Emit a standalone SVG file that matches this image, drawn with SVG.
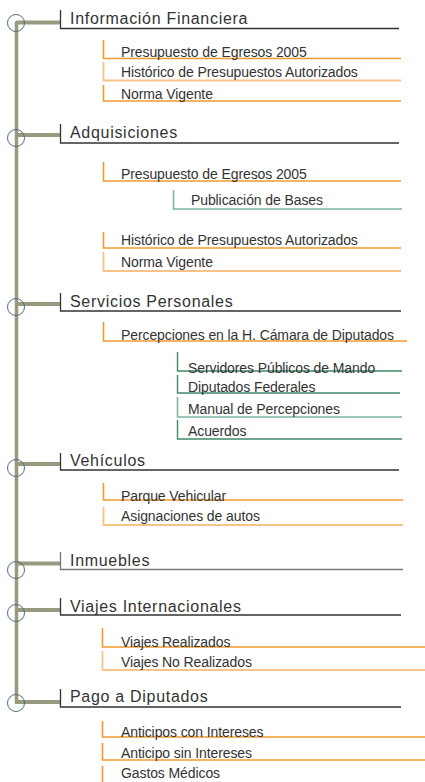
<svg xmlns="http://www.w3.org/2000/svg" width="425" height="782" viewBox="0 0 425 782">
<style>
text{font-family:"Liberation Sans",Arial,sans-serif;fill:#333}
.h{font-size:16px;letter-spacing:0.7px}
.s{font-size:14px;letter-spacing:-0.1px}
.hl{stroke:#333;stroke-width:1.3;fill:none}
.o{stroke:#f39a2e;stroke-width:1.6;fill:none}
.ol{stroke:#f9c287;stroke-width:1.8;fill:none}
.g{stroke:#3f8a6a;stroke-width:1.4;fill:none}
.gl{stroke:#7db8a0;stroke-width:1.6;fill:none}
.bar{stroke:#999980;stroke-width:3.5;fill:none}
.con{stroke:#999980;stroke-width:4;stroke-linecap:round;fill:none}
.c{stroke:#4d7373;stroke-width:1;fill:none}
</style>
<g id="connectors">
<line class="bar" x1="16.5" y1="22" x2="16.5" y2="704"/>
<line class="con" x1="17" y1="22.5" x2="59" y2="22.5"/>
<line class="con" x1="17" y1="135" x2="59" y2="135"/>
<line class="con" x1="17" y1="304" x2="59" y2="304"/>
<line class="con" x1="17" y1="464" x2="59" y2="464"/>
<line class="con" x1="17" y1="563.5" x2="59" y2="563.5"/>
<line class="con" x1="17" y1="610" x2="59" y2="610"/>
<line class="con" x1="17" y1="702" x2="59" y2="702"/>
<circle class="c" cx="16" cy="23" r="8.5"/>
<circle class="c" cx="16" cy="138" r="8.5"/>
<circle class="c" cx="16" cy="307" r="8.5"/>
<circle class="c" cx="16" cy="468" r="8.5"/>
<circle class="c" cx="16" cy="570" r="8.5"/>
<circle class="c" cx="16" cy="613" r="8.5"/>
<circle class="c" cx="16" cy="703" r="8.5"/>
</g>

<g id="informacion-financiera">
<path class="hl" d="M60.5 10 V28.5 H399"/>
<text class="h" x="70" y="24">Información Financiera</text>
</g>
<g id="if-presupuesto">
<path class="o" d="M103.5 40 V58.5 H401"/>
<text class="s" x="121" y="57">Presupuesto de Egresos 2005</text>
</g>
<g id="if-historico">
<path class="ol" d="M103.5 62 V80.5 H401"/>
<text class="s" x="121" y="76.5">Histórico de Presupuestos Autorizados</text>
</g>
<g id="if-norma">
<path class="o" d="M103.5 85 V101 H401"/>
<text class="s" x="121" y="98.5">Norma Vigente</text>
</g>

<g id="adquisiciones">
<path class="hl" d="M60.5 124 V143 H399"/>
<text class="h" x="70" y="138">Adquisiciones</text>
</g>
<g id="ad-presupuesto">
<path class="o" d="M103.5 162 V181 H401"/>
<text class="s" x="121" y="179">Presupuesto de Egresos 2005</text>
</g>
<g id="ad-publicacion">
<path class="gl" d="M173.5 190 V209 H402"/>
<text class="s" x="191" y="205">Publicación de Bases</text>
</g>
<g id="ad-historico">
<path class="o" d="M103.5 232 V248 H401"/>
<text class="s" x="121" y="244.5">Histórico de Presupuestos Autorizados</text>
</g>
<g id="ad-norma">
<path class="ol" d="M103.5 252 V271 H401"/>
<text class="s" x="121" y="267">Norma Vigente</text>
</g>

<g id="servicios-personales">
<path class="hl" d="M60.5 293 V311 H401"/>
<text class="h" x="70" y="307">Servicios Personales</text>
</g>
<g id="sp-percepciones">
<path class="o" d="M103.5 322 V341 H407"/>
<text class="s" x="121" y="340">Percepciones en la H. Cámara de Diputados</text>
</g>
<g id="sp-servidores">
<path class="g" d="M177.5 352 V371 H402"/>
<text class="s" x="188" y="372.5">Servidores Públicos  de Mando</text>
</g>
<g id="sp-diputados">
<path class="g" d="M177.5 375 V393 H400"/>
<text class="s" x="188" y="392">Diputados Federales</text>
</g>
<g id="sp-manual">
<path class="gl" d="M177.5 397 V417 H402"/>
<text class="s" x="188" y="414">Manual de Percepciones</text>
</g>
<g id="sp-acuerdos">
<path class="g" d="M177.5 420 V439 H402"/>
<text class="s" x="188" y="436">Acuerdos</text>
</g>

<g id="vehiculos">
<path class="hl" d="M60.5 453 V470 H399"/>
<text class="h" x="70" y="466">Vehículos</text>
</g>
<g id="ve-parque">
<path class="o" d="M103.5 483 V500 H403"/>
<text class="s" x="121" y="500.5">Parque Vehicular</text>
</g>
<g id="ve-asignaciones">
<path class="ol" d="M103.5 507 V525 H403"/>
<text class="s" x="121" y="521">Asignaciones de autos</text>
</g>

<g id="inmuebles">
<path class="hl" d="M60.5 552 V569.5 H403" style="stroke:#777"/>
<text class="h" x="70" y="566">Inmuebles</text>
</g>

<g id="viajes-internacionales">
<path class="hl" d="M60.5 598 V615 H401"/>
<text class="h" x="70" y="612">Viajes Internacionales</text>
</g>
<g id="vi-realizados">
<path class="o" d="M102.5 628 V647 H425"/>
<text class="s" x="121" y="646.5">Viajes Realizados</text>
</g>
<g id="vi-no-realizados">
<path class="ol" d="M102.5 651 V670 H425"/>
<text class="s" x="121" y="667">Viajes No Realizados</text>
</g>

<g id="pago-diputados">
<path class="hl" d="M60.5 689 V707 H401"/>
<text class="h" x="70" y="702">Pago a Diputados</text>
</g>
<g id="pd-anticipos">
<path class="o" d="M102.5 721 V737 H425"/>
<text class="s" x="121" y="737">Anticipos con Intereses</text>
</g>
<g id="pd-anticipo">
<path class="o" d="M102.5 743 V760 H425"/>
<text class="s" x="121" y="757.5">Anticipo sin Intereses</text>
</g>
<g id="pd-gastos">
<path class="o" d="M102.5 766 V782"/>
<text class="s" x="121" y="778">Gastos Médicos</text>
</g>
</svg>
